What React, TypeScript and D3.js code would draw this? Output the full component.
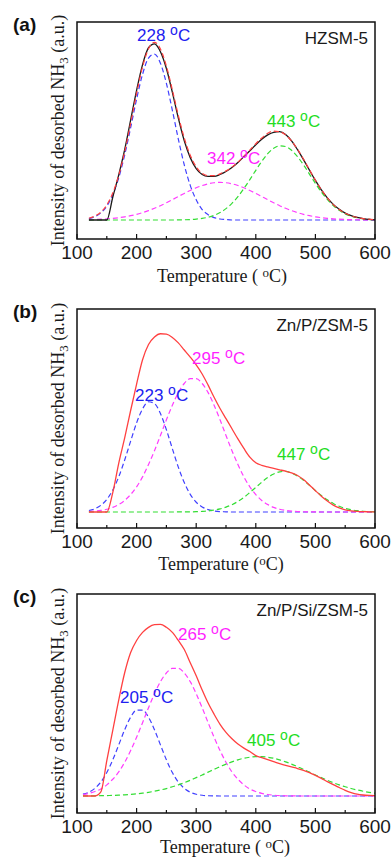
import React from "react";
import * as d3 from "d3";

// ---------- DATA ----------
const TEMPS_AB = [120,130,140,150,160,170,180,190,200,210,220,230,240,250,260,270,280,290,300,310,320,330,340,350,360,370,380,390,400,410,420,430,440,450,460,470,480,490,500,510,520,530,540,550,560,570,580,590,600];
const TEMPS_C = [110,120,130,140,150,160,170,180,190,200,210,220,230,240,250,260,270,280,290,300,310,320,330,340,350,360,370,380,390,400,410,420,430,440,450,460,470,480,490,500,510,520,530,540,550,560,570,580,590,600];

const X_TICKS_MAJOR = [100, 200, 300, 400, 500, 600];
const X_TICKS_MINOR = [150, 250, 350, 450, 550];

// (a) HZSM-5
const A_BLUE = [0.7,1.7,3.6,7.0,12.8,21.3,32.8,46.6,61.0,73.6,81.8,83.8,79.2,69.0,55.4,40.9,27.8,17.5,10.2,5.3,2.7,1.2,0.5,0.2,0,0,0,0,0,0,0,0,0,0,0,0,0,0,0,0,0,0,0,0,0,0,0,0,0];
const A_MAGENTA = [0.18,0.27,0.40,0.58,0.83,1.17,1.61,2.18,2.87,3.72,4.74,5.92,7.23,8.70,10.25,11.84,13.43,14.93,16.28,17.42,18.28,18.81,19.0,18.81,18.28,17.42,16.28,14.93,13.43,11.84,10.25,8.70,7.23,5.92,4.74,3.72,2.87,2.18,1.61,1.17,0.83,0.58,0.40,0.27,0.18,0.12,0.08,0.05,0.03];
const A_GREEN = [0,0,0,0,0,0,0,0,0,0,0,0,0,0,0,0.06,0.12,0.23,0.44,0.81,1.41,2.35,3.75,5.74,8.40,11.8,15.9,20.4,25.1,29.6,33.5,36.2,37.4,37.1,35.2,32.0,27.9,23.2,18.5,14.1,10.4,7.24,4.88,3.11,1.91,1.13,0.64,0.35,0.18];
const A_FIT = [0.9,2.0,4.0,7.6,13.6,22.5,34.4,48.8,63.9,77.3,86.5,89.7,86.4,77.7,65.7,52.8,41.4,32.7,26.9,23.5,22.4,22.4,23.3,24.8,26.7,29.2,32.2,35.3,38.5,41.4,43.8,44.9,44.6,43.0,39.9,35.7,30.8,25.4,20.1,15.3,11.2,7.8,5.3,3.4,2.1,1.3,0.7,0.4,0.2];
const A_MEASURED = [0,0,0,0,11.5,22.8,35.5,50.5,65.5,78.5,87.0,89.0,85.0,76.5,64.5,51.5,40.0,31.5,26.0,23.0,22.0,22.0,23.0,24.5,26.5,29.0,32.0,35.0,38.0,40.8,43.0,44.3,44.6,43.2,40.0,35.5,30.5,25.2,20.0,15.2,11.2,7.9,5.4,3.5,2.2,1.3,0.7,0.3,0.1];

// (b) Zn/P/ZSM-5
const B_BLUE = [0.72,1.6,3.3,6.2,10.8,17.3,25.6,34.9,43.9,50.8,54.3,53.4,48.5,40.5,31.2,22.1,14.5,8.7,4.8,2.5,1.2,0.5,0.2,0.1,0,0,0,0,0,0,0,0,0,0,0,0,0,0,0,0,0,0,0,0,0,0,0,0,0];
const B_MAGENTA = [0.23,0.43,0.77,1.35,2.27,3.67,5.7,8.6,12.4,17.3,23.4,30.2,37.7,45.4,52.6,58.8,63.3,65.7,65.7,63.3,58.8,52.6,45.4,37.7,30.2,23.4,17.3,12.4,8.6,5.7,3.67,2.27,1.35,0.77,0.43,0.23,0.12,0.06,0.03,0.01,0,0,0,0,0,0,0,0,0];
const B_GREEN = [0,0,0,0,0,0,0,0,0,0,0,0,0,0,0,0.02,0.04,0.08,0.15,0.29,0.52,0.9,1.5,2.4,3.6,5.2,7.2,9.6,12.1,14.7,17.0,18.7,19.8,20.0,19.2,17.7,15.6,13.2,10.6,8.1,6.0,4.2,2.8,1.8,1.1,0.65,0.36,0.2,0.1];
const B_MEASURED = [0,0,0,0,9.5,24,36.5,50,63,75,82.5,86.2,87.8,87.6,86.0,83.3,79.8,76.3,72.5,68.0,62.5,56.5,51,46,41,36,31.3,27,24.3,23.0,22.2,21.5,20.8,20.1,19.3,18.0,16.0,13.3,10.5,7.8,5.4,3.4,2.0,1.1,0.6,0.3,0.15,0.1,0.05];

// (c) Zn/P/Si/ZSM-5
const C_BLUE = [0.9,1.9,3.8,6.9,11.6,17.9,25.3,32.8,39.0,42.5,42.5,39.0,32.8,25.3,17.9,11.6,6.9,3.8,1.9,0.87,0.37,0.14,0.05,0,0,0,0,0,0,0,0,0,0,0,0,0,0,0,0,0,0,0,0,0,0,0,0,0,0,0];
const C_MAGENTA = [0.74,1.3,2.2,3.5,5.5,8.3,11.9,16.7,22.5,29.1,36.3,43.7,50.6,56.6,60.9,63.2,63.2,60.9,56.6,50.6,43.7,36.3,29.1,22.5,16.7,11.9,8.3,5.5,3.5,2.2,1.3,0.74,0.41,0.22,0.1,0.05,0.02,0,0,0,0,0,0,0,0,0,0,0,0,0];
const C_GREEN = [0.05,0.07,0.1,0.15,0.22,0.31,0.43,0.59,0.8,1.06,1.4,1.83,2.35,2.96,3.69,4.56,5.52,6.6,7.8,9.1,10.4,11.8,13.2,14.5,15.8,16.9,17.9,18.7,19.2,19.5,19.5,19.2,18.7,17.9,16.9,15.8,14.5,13.2,11.8,10.4,9.1,7.8,6.6,5.5,4.6,3.7,3.0,2.35,1.83,1.4];
const C_MEASURED = [0,0,0,2,17.5,32.5,47.5,61,71,77,81,83.5,84.8,85,83.5,81,77,72.5,66,59.5,52.5,46,40.5,35.5,31.5,28.3,25.7,23.7,22,20,19,18,17,16,15.2,14.4,13.6,12.7,11.6,10.2,8.7,7.1,5.6,4.2,2.8,1.7,0.9,0.5,0.3,0.2];

const PEAKS_A = ["228", "342", "443"];
const PEAKS_B = ["223", "295", "447"];
const PEAKS_C = ["205", "265", "405"];

// ---------- STYLE ----------
const SANS = "'Liberation Sans', Arial, Helvetica, sans-serif";
const SERIF = "'Liberation Serif', 'Times New Roman', Times, serif";
const BLUE = "#4040ff";
const MAGENTA = "#ff3cff";
const GREEN = "#33dd33";
const RED = "#ff4040";
const BLACK = "#1a1a1a";
const BLUE_T = "#2020f0";
const MAGENTA_T = "#ff1eff";
const GREEN_T = "#22dd22";

const X0 = 77, X1 = 375;

type Series = { values: number[]; color: string; dashed: boolean; width?: number };
type PeakLabel = { text: string; color: string; x: number; y: number };
type Panel = {
  letter: string; sample: string; top: number; bottom: number; baseline: number;
  temps: number[]; series: Series[]; labels: PeakLabel[]; xLabelSpace: boolean; xLabelY: number; xLabelX: number;
};

const PANELS: Panel[] = [
  {
    letter: "(a)", sample: "HZSM-5", top: 22, bottom: 239, baseline: 220, temps: TEMPS_AB,
    series: [
      { values: A_BLUE, color: BLUE, dashed: true },
      { values: A_MAGENTA, color: MAGENTA, dashed: true },
      { values: A_GREEN, color: GREEN, dashed: true },
      { values: A_MEASURED, color: BLACK, dashed: false, width: 1.3 },
      { values: A_FIT, color: RED, dashed: true },
    ],
    labels: [
      { text: PEAKS_A[0], color: BLUE_T, x: 137, y: 40.5 },
      { text: PEAKS_A[1], color: MAGENTA_T, x: 207, y: 164 },
      { text: PEAKS_A[2], color: GREEN_T, x: 267, y: 127 },
    ],
    xLabelSpace: true, xLabelY: 282, xLabelX: 222,
  },
  {
    letter: "(b)", sample: "Zn/P/ZSM-5", top: 309, bottom: 528, baseline: 512, temps: TEMPS_AB,
    series: [
      { values: B_BLUE, color: BLUE, dashed: true },
      { values: B_MAGENTA, color: MAGENTA, dashed: true },
      { values: B_GREEN, color: GREEN, dashed: true },
      { values: B_MEASURED, color: RED, dashed: false, width: 1.3 },
    ],
    labels: [
      { text: PEAKS_B[0], color: BLUE_T, x: 135, y: 400.5 },
      { text: PEAKS_B[1], color: MAGENTA_T, x: 192, y: 364 },
      { text: PEAKS_B[2], color: GREEN_T, x: 277, y: 460 },
    ],
    xLabelSpace: false, xLabelY: 570, xLabelX: 221,
  },
  {
    letter: "(c)", sample: "Zn/P/Si/ZSM-5", top: 594, bottom: 813, baseline: 796, temps: TEMPS_C,
    series: [
      { values: C_BLUE, color: BLUE, dashed: true },
      { values: C_MAGENTA, color: MAGENTA, dashed: true },
      { values: C_GREEN, color: GREEN, dashed: true },
      { values: C_MEASURED, color: RED, dashed: false, width: 1.3 },
    ],
    labels: [
      { text: PEAKS_C[0], color: BLUE_T, x: 120, y: 703 },
      { text: PEAKS_C[1], color: MAGENTA_T, x: 178, y: 640 },
      { text: PEAKS_C[2], color: GREEN_T, x: 247, y: 746 },
    ],
    xLabelSpace: true, xLabelY: 853, xLabelX: 225,
  },
];

function PanelView({ p }: { p: Panel }) {
  const x = d3.scaleLinear().domain([100, 600]).range([X0, X1]);
  const y = d3.scaleLinear().domain([0, 100]).range([p.baseline, p.top]);
  const mid = (p.top + p.bottom) / 2;
  return (
    <g>
      {p.series.map((s, i) => {
        const line = d3
          .line<number>()
          .x((_, j) => x(p.temps[j]))
          .y((v) => y(v))
          .curve(d3.curveMonotoneX);
        return (
          <path
            key={i}
            d={line(s.values) || ""}
            fill="none"
            stroke={s.color}
            strokeWidth={s.width ?? 1.2}
            strokeDasharray={s.dashed ? "5 3" : undefined}
          />
        );
      })}
      <rect x={X0} y={p.top} width={X1 - X0} height={p.bottom - p.top} fill="none" stroke="#111" strokeWidth={1.5} />
      {X_TICKS_MAJOR.map((t) => (
        <g key={"M" + t}>
          <line x1={x(t)} x2={x(t)} y1={p.bottom} y2={p.bottom - 5} stroke="#111" strokeWidth={1.2} />
          <text x={x(t)} y={p.bottom + 20} textAnchor="middle" fontFamily={SANS} fontSize={19} fill="#1a1a1a">{t}</text>
        </g>
      ))}
      {X_TICKS_MINOR.map((t) => (
        <line key={"m" + t} x1={x(t)} x2={x(t)} y1={p.bottom} y2={p.bottom - 3} stroke="#111" strokeWidth={1.2} />
      ))}
      <text x={13} y={p.top + 9} fontFamily={SANS} fontWeight="bold" fontSize={19} fill="#111">{p.letter}</text>
      <text x={368} y={p.top + 22} textAnchor="end" fontFamily={SANS} fontSize={17} fill="#1a1a1a">{p.sample}</text>
      {p.labels.map((l, i) => (
        <text key={i} x={l.x} y={l.y} fontFamily={SANS} fontSize={17} fill={l.color}>
          {l.text + " "}
          <tspan dy={-6} fontSize={14}>o</tspan>
          <tspan dy={6}>C</tspan>
        </text>
      ))}
      <text
        transform={`translate(64, ${mid}) rotate(-90)`}
        textAnchor="middle"
        fontFamily={SERIF}
        fontSize={18}
        fill="#1a1a1a"
      >
        Intensity of desorbed NH
        <tspan dy={4} fontSize={13}>3</tspan>
        <tspan dy={-4}> (a.u.)</tspan>
      </text>
      <text x={p.xLabelX} y={p.xLabelY} textAnchor="middle" fontFamily={SERIF} fontSize={18} fill="#1a1a1a">
        {p.xLabelSpace ? "Temperature ( " : "Temperature ("}
        <tspan dy={-5} fontSize={13}>o</tspan>
        <tspan dy={5}>C)</tspan>
      </text>
    </g>
  );
}

export default function App() {
  return (
    <svg width={391} height={859} viewBox="0 0 391 859" style={{ position: "absolute", left: 0, top: 0, background: "#fff" }}>
      <rect x={0} y={0} width={391} height={859} fill="#fff" />
      {PANELS.map((p) => (
        <PanelView key={p.letter} p={p} />
      ))}
    </svg>
  );
}
